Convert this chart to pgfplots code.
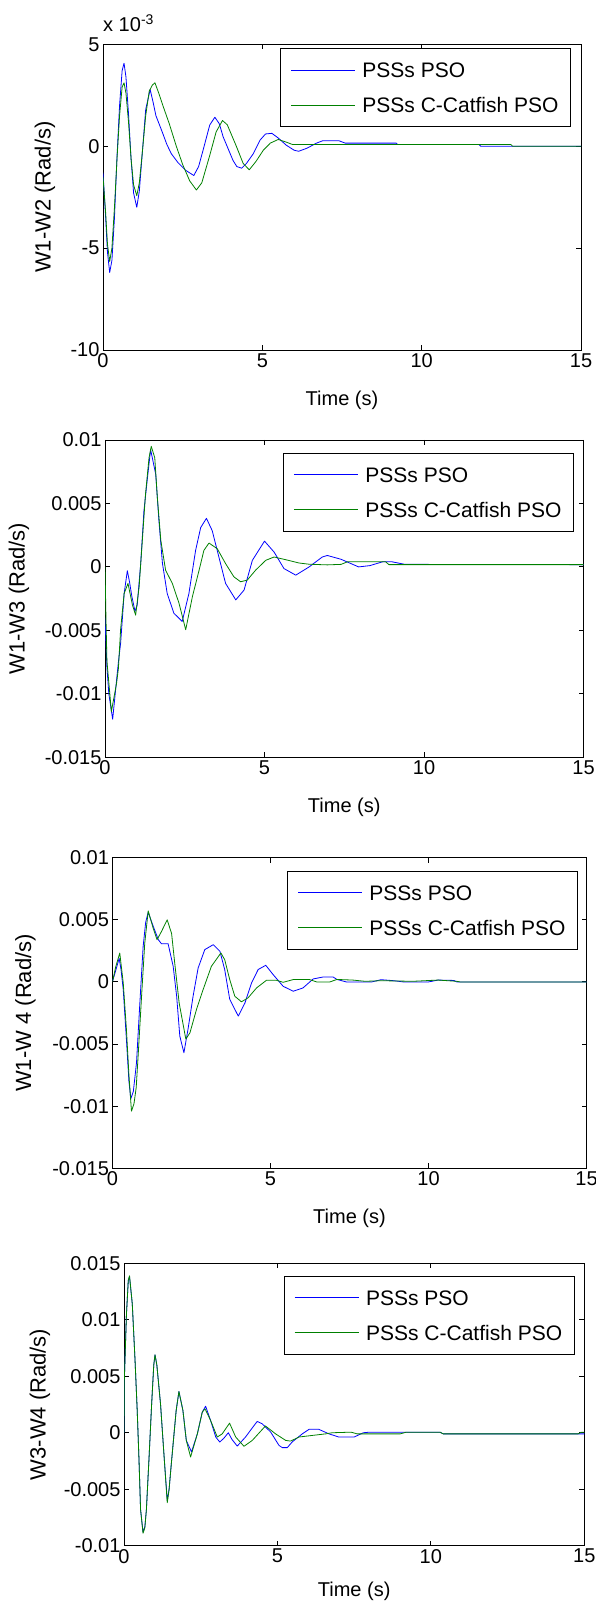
\documentclass[border=0pt]{standalone}
\usepackage{pgfplots}
\pgfplotsset{compat=1.18}
\usepackage{fontspec}
\setmainfont{Liberation Sans}
\definecolor{mblue}{RGB}{0,0,255}
\definecolor{mgreen}{RGB}{0,128,0}
\pgfplotsset{
  panel/.style={
    scale only axis,
    xmin=0, xmax=15,
    xtick={0,5,10,15}, xticklabels={0,5,10,15},
    tick align=inside, xtick pos=both, ytick pos=both,
    major tick length=5pt,
    axis line style={line width=0.9pt},
    every tick/.style={black, line width=0.9pt},
    tick label style={font=\fontsize{20}{24}\selectfont},
    xlabel={Time (s)},
    xlabel style={font=\fontsize{20}{24}\selectfont, at={(axis description cs:0.5,0)}, anchor=center, yshift=-50pt},
    ylabel style={font=\fontsize{22}{26}\selectfont, at={(axis description cs:0,0.5)}, anchor=center},
    legend cell align=left,
    legend style={font=\fontsize{21}{25}\selectfont, draw=black, line width=0.9pt, fill=white,
      inner xsep=10pt, inner ysep=9pt, row sep=10pt, anchor=north east,
      nodes={inner sep=2pt, text height=18pt, text depth=3pt},
      /tikz/column 1/.style={column sep=5pt}},
    legend image code/.code={\draw[#1, line width=0.9pt] (0pt,0pt) -- (64pt,0pt);
      \node[inner sep=0pt, minimum size=0pt, text height=0pt, text depth=0pt] at (0pt,8pt) {};},
    clip mode=individual,
  },
  pso/.style={mblue, line width=0.8pt, line join=round},
  cat/.style={mgreen, line width=0.8pt, line join=round},
}
\begin{document}
\begin{tikzpicture}
\useasboundingbox (0,0) rectangle (595pt,1605pt);
% ---------------- Panel 1 ----------------
\begin{axis}[panel, at={(103pt,1255pt)}, anchor=south west, width=478pt, height=305.7pt,
  ymin=-10, ymax=5, ytick={-10,-5,0,5}, yticklabels={-10,-5,0,5},
  ylabel={W1-W2 (Rad/s)}, ylabel style={yshift=58pt},
  legend style={at={(0.979,0.987)}}]
\addplot[pso] coordinates {
(0,-1.3) (0.08,-3.4) (0.14,-5.2) (0.21,-6.2) (0.28,-5.6) (0.36,-3.5) (0.44,-0.5) (0.52,2.0) (0.60,3.7) (0.66,4.07)
(0.72,3.4) (0.80,1.6) (0.88,-0.6) (0.96,-2.3) (1.06,-3.0) (1.14,-2.2) (1.24,-0.2) (1.34,1.8) (1.48,2.78) (1.58,2.1)
(1.66,1.5) (1.87,0.65) (2.0,0.1) (2.14,-0.36) (2.35,-0.8) (2.6,-1.19) (2.85,-1.44) (3.0,-1.0) (3.14,-0.2) (3.35,1.04)
(3.51,1.42) (3.65,1.1) (3.77,0.46) (4.08,-0.7) (4.2,-1.0) (4.35,-1.08) (4.5,-0.85) (4.72,-0.36) (4.93,0.3) (5.1,0.6)
(5.3,0.63) (5.5,0.4) (5.75,0.05) (6.0,-0.2) (6.14,-0.25) (6.4,-0.1) (6.7,0.15) (6.9,0.27) (7.4,0.27) (7.6,0.15)
(9.2,0.15) (9.25,0.08) (11.8,0.08) (11.85,0.0) (15,0.0)};
\addlegendentry{PSSs PSO}
\addplot[cat] coordinates {
(0,-1.5) (0.08,-3.2) (0.14,-4.8) (0.21,-5.66) (0.28,-5.0) (0.36,-3.0) (0.44,-0.6) (0.52,1.5) (0.60,2.9) (0.66,3.11)
(0.72,2.6) (0.80,1.2) (0.88,-0.6) (0.96,-1.9) (1.06,-2.43) (1.14,-1.8) (1.24,-0.2) (1.34,1.5) (1.45,2.7) (1.55,3.0)
(1.63,3.11) (1.75,2.6) (1.9,1.9) (2.08,1.1) (2.3,0.0) (2.5,-0.9) (2.72,-1.7) (2.93,-2.15) (3.1,-1.8) (3.35,-0.45)
(3.55,0.7) (3.75,1.26) (3.9,1.05) (4.17,0.05) (4.4,-0.85) (4.59,-1.16) (4.8,-0.75) (5.03,-0.2) (5.25,0.15) (5.5,0.33)
(5.75,0.2) (5.95,0.08) (12.8,0.08) (12.85,0.0) (15,0.0)};
\addlegendentry{PSSs C-Catfish PSO}
\node[anchor=base west, font=\fontsize{20}{24}\selectfont, inner sep=0pt] at ([yshift=12.6pt]rel axis cs:0,1) {x 10\textsuperscript{-3}};
\end{axis}
% ---------------- Panel 2 ----------------
\begin{axis}[panel, at={(105pt,847.7pt)}, anchor=south west, width=478.5pt, height=317.3pt,
  ymin=-15, ymax=10, ytick={-15,-10,-5,0,5,10}, yticklabels={-0.015,-0.01,-0.005,0,0.005,0.01},
  ylabel={W1-W3 (Rad/s)}, ylabel style={yshift=86pt},
  legend style={at={(0.980,0.959)}}]
\addplot[pso] coordinates {
(0,-4.0) (0.06,-7.9) (0.12,-10.0) (0.24,-12.0) (0.30,-10.5) (0.42,-7.5) (0.49,-6.0) (0.60,-2.1) (0.70,-0.3) (0.77,-1.2)
(0.84,-2.3) (0.94,-3.5) (1.01,-3.0) (1.12,0.3) (1.22,4.4) (1.33,7.0) (1.43,9.24) (1.59,7.3) (1.69,3.65) (1.80,0.3)
(1.95,-2.1) (2.16,-3.65) (2.42,-4.3) (2.63,-2.1) (2.84,1.3) (3.0,3.1) (3.18,3.83) (3.36,2.86) (3.57,0.78) (3.78,-1.3)
(4.1,-2.6) (4.36,-1.82) (4.62,0.52) (5.0,2.03) (5.3,1.17) (5.61,-0.13) (5.98,-0.65) (6.4,0.0) (6.81,0.78) (6.97,0.9)
(7.4,0.6) (7.95,0.0) (8.3,0.1) (8.7,0.4) (9.0,0.4) (9.4,0.2) (15,0.18)};
\addlegendentry{PSSs PSO}
\addplot[cat] coordinates {
(0,0) (0.03,-4.0) (0.06,-7.4) (0.2,-11.4) (0.36,-9.2) (0.42,-8.0) (0.49,-4.9) (0.60,-2.1) (0.72,-1.3) (0.86,-3.0)
(0.96,-3.8) (1.07,-1.56) (1.17,2.08) (1.27,5.73) (1.38,8.6) (1.45,9.5) (1.56,8.6) (1.64,5.5) (1.75,2.08) (1.9,-0.26)
(2.11,-1.3) (2.32,-2.86) (2.53,-4.95) (2.74,-2.34) (2.95,-0.26) (3.1,1.3) (3.26,1.88) (3.52,1.43) (3.78,0.26) (4.04,-0.78)
(4.25,-1.17) (4.46,-1.04) (4.72,-0.26) (5.04,0.52) (5.3,0.78) (5.66,0.57) (6.08,0.31) (6.4,0.21) (6.97,0.16) (7.4,0.2)
(7.6,0.4) (8.8,0.4) (8.9,0.18) (15,0.18)};
\addlegendentry{PSSs C-Catfish PSO}
\end{axis}
% ---------------- Panel 3 ----------------
\begin{axis}[panel, at={(112.5pt,436.7pt)}, anchor=south west, width=474pt, height=310.6pt,
  ymin=-15, ymax=10, ytick={-15,-10,-5,0,5,10}, yticklabels={-0.015,-0.01,-0.005,0,0.005,0.01},
  ylabel={W1-W 4 (Rad/s)}, ylabel style={yshift=87pt},
  legend style={at={(0.982,0.958)}}]
\addplot[pso] coordinates {
(0,0.05) (0.1,0.9) (0.21,1.9) (0.27,1.0) (0.34,-0.6) (0.44,-4.6) (0.52,-8.0) (0.58,-9.4) (0.66,-8.8) (0.76,-6.5)
(0.86,-1.95) (0.97,2.86) (1.05,4.8) (1.13,5.6) (1.29,4.47) (1.45,3.4) (1.55,3.07) (1.76,3.07) (1.92,1.26) (2.03,-1.15)
(2.13,-4.36) (2.26,-5.7) (2.39,-3.8) (2.55,-1.15) (2.71,1.12) (2.92,2.6) (3.19,3.0) (3.4,2.46) (3.55,1.0) (3.71,-1.4)
(3.98,-2.75) (4.19,-1.7) (4.4,-0.08) (4.61,1.0) (4.85,1.34) (5.08,0.6) (5.4,-0.35) (5.72,-0.75) (6.03,-0.48) (6.35,0.24)
(6.67,0.4) (6.98,0.4) (7.1,0.2) (7.4,0.0) (8.2,0.0) (8.5,0.18) (8.9,0.1) (9.2,0.0) (10.0,0.0) (10.3,0.15)
(10.8,0.12) (10.9,0.0) (15,0.0)};
\addlegendentry{PSSs PSO}
\addplot[cat] coordinates {
(0,0) (0.1,1.2) (0.23,2.33) (0.34,-0.08) (0.44,-3.8) (0.52,-7.5) (0.6,-10.4) (0.68,-9.8) (0.75,-8.5) (0.81,-6.0)
(0.92,-1.15) (1.02,3.1) (1.13,5.72) (1.29,4.3) (1.41,3.4) (1.55,4.06) (1.73,5.0) (1.87,3.9) (1.97,1.5) (2.11,-1.7)
(2.32,-4.6) (2.45,-4.1) (2.66,-2.2) (2.87,-0.6) (3.13,1.26) (3.43,2.33) (3.55,1.8) (3.71,0.19) (3.87,-1.15) (4.08,-1.6)
(4.29,-1.28) (4.56,-0.48) (4.87,0.13) (5.19,0.13) (5.4,-0.03) (5.72,0.19) (6.24,0.19) (6.46,0.0) (6.88,0.0) (7.1,0.2)
(7.6,0.15) (8.0,0.05) (8.5,0.1) (9.5,0.05) (10.3,0.15) (10.9,0.05) (11.0,0.0) (15,0.0)};
\addlegendentry{PSSs C-Catfish PSO}
\end{axis}
% ---------------- Panel 4 ----------------
\begin{axis}[panel, at={(124pt,59.3pt)}, anchor=south west, width=460.3pt, height=282.4pt,
  ymin=-10, ymax=15, ytick={-10,-5,0,5,10,15}, yticklabels={-0.01,-0.005,0,0.005,0.01,0.015},
  ylabel={W3-W4 (Rad/s)}, ylabel style={yshift=84pt},
  xlabel style={yshift=4pt},
  legend style={at={(0.979,0.956)}}]
\addplot[pso] coordinates {
(0,0) (0.01,4.6) (0.08,10.5) (0.14,13.5) (0.18,13.8) (0.27,11.4) (0.36,6.4) (0.43,2.0) (0.49,-2.5) (0.54,-6.8)
(0.62,-8.8) (0.68,-8.3) (0.73,-6.8) (0.82,-2.0) (0.9,2.5) (0.97,6.0) (1.01,6.9) (1.07,6.0) (1.19,2.56) (1.3,-1.85)
(1.41,-6.0) (1.47,-5.0) (1.55,-2.5) (1.63,-0.1) (1.7,1.97) (1.79,3.65) (1.92,1.97) (2.03,-0.68) (2.2,-1.7) (2.39,-0.1)
(2.55,1.82) (2.66,2.35) (2.82,1.1) (2.99,-0.38) (3.12,-0.82) (3.25,-0.5) (3.4,0.0) (3.52,-0.6) (3.69,-1.18) (3.96,-0.38)
(4.2,0.5) (4.34,1.0) (4.5,0.8) (4.78,0.06) (5.05,-1.12) (5.16,-1.32) (5.32,-1.32) (5.48,-0.82) (5.81,-0.1) (6.03,0.3)
(6.35,0.3) (6.68,-0.1) (7.0,-0.38) (7.5,-0.38) (7.8,0.0) (8.0,0.05) (10.3,0.05) (10.4,-0.1) (15,-0.1)};
\addlegendentry{PSSs PSO}
\addplot[cat] coordinates {
(0,0) (0.01,4.6) (0.08,10.5) (0.14,13.5) (0.18,13.9) (0.27,11.4) (0.36,6.4) (0.43,2.0) (0.49,-2.5) (0.54,-6.8)
(0.62,-8.9) (0.68,-8.4) (0.73,-6.8) (0.82,-2.0) (0.9,2.5) (0.97,6.0) (1.01,6.9) (1.07,6.0) (1.19,2.56) (1.3,-1.85)
(1.41,-6.2) (1.47,-5.0) (1.55,-2.5) (1.63,-0.1) (1.7,1.97) (1.79,3.65) (1.92,1.97) (2.03,-0.68) (2.17,-2.15) (2.39,-0.1)
(2.55,1.82) (2.64,2.12) (2.82,1.1) (3.04,-0.38) (3.2,-0.1) (3.44,0.85) (3.64,-0.38) (3.91,-1.2) (4.18,-0.68) (4.61,0.6)
(4.94,-0.1) (5.27,-0.68) (5.43,-0.74) (5.7,-0.38) (6.13,-0.24) (6.57,-0.1) (6.79,0.0) (7.4,0.05) (7.6,-0.1) (9.0,-0.1)
(9.2,0.05) (10.3,0.05) (10.4,-0.1) (14.8,-0.1) (14.9,0.05) (15,0.05)};
\addlegendentry{PSSs C-Catfish PSO}
\end{axis}
\end{tikzpicture}
\end{document}
